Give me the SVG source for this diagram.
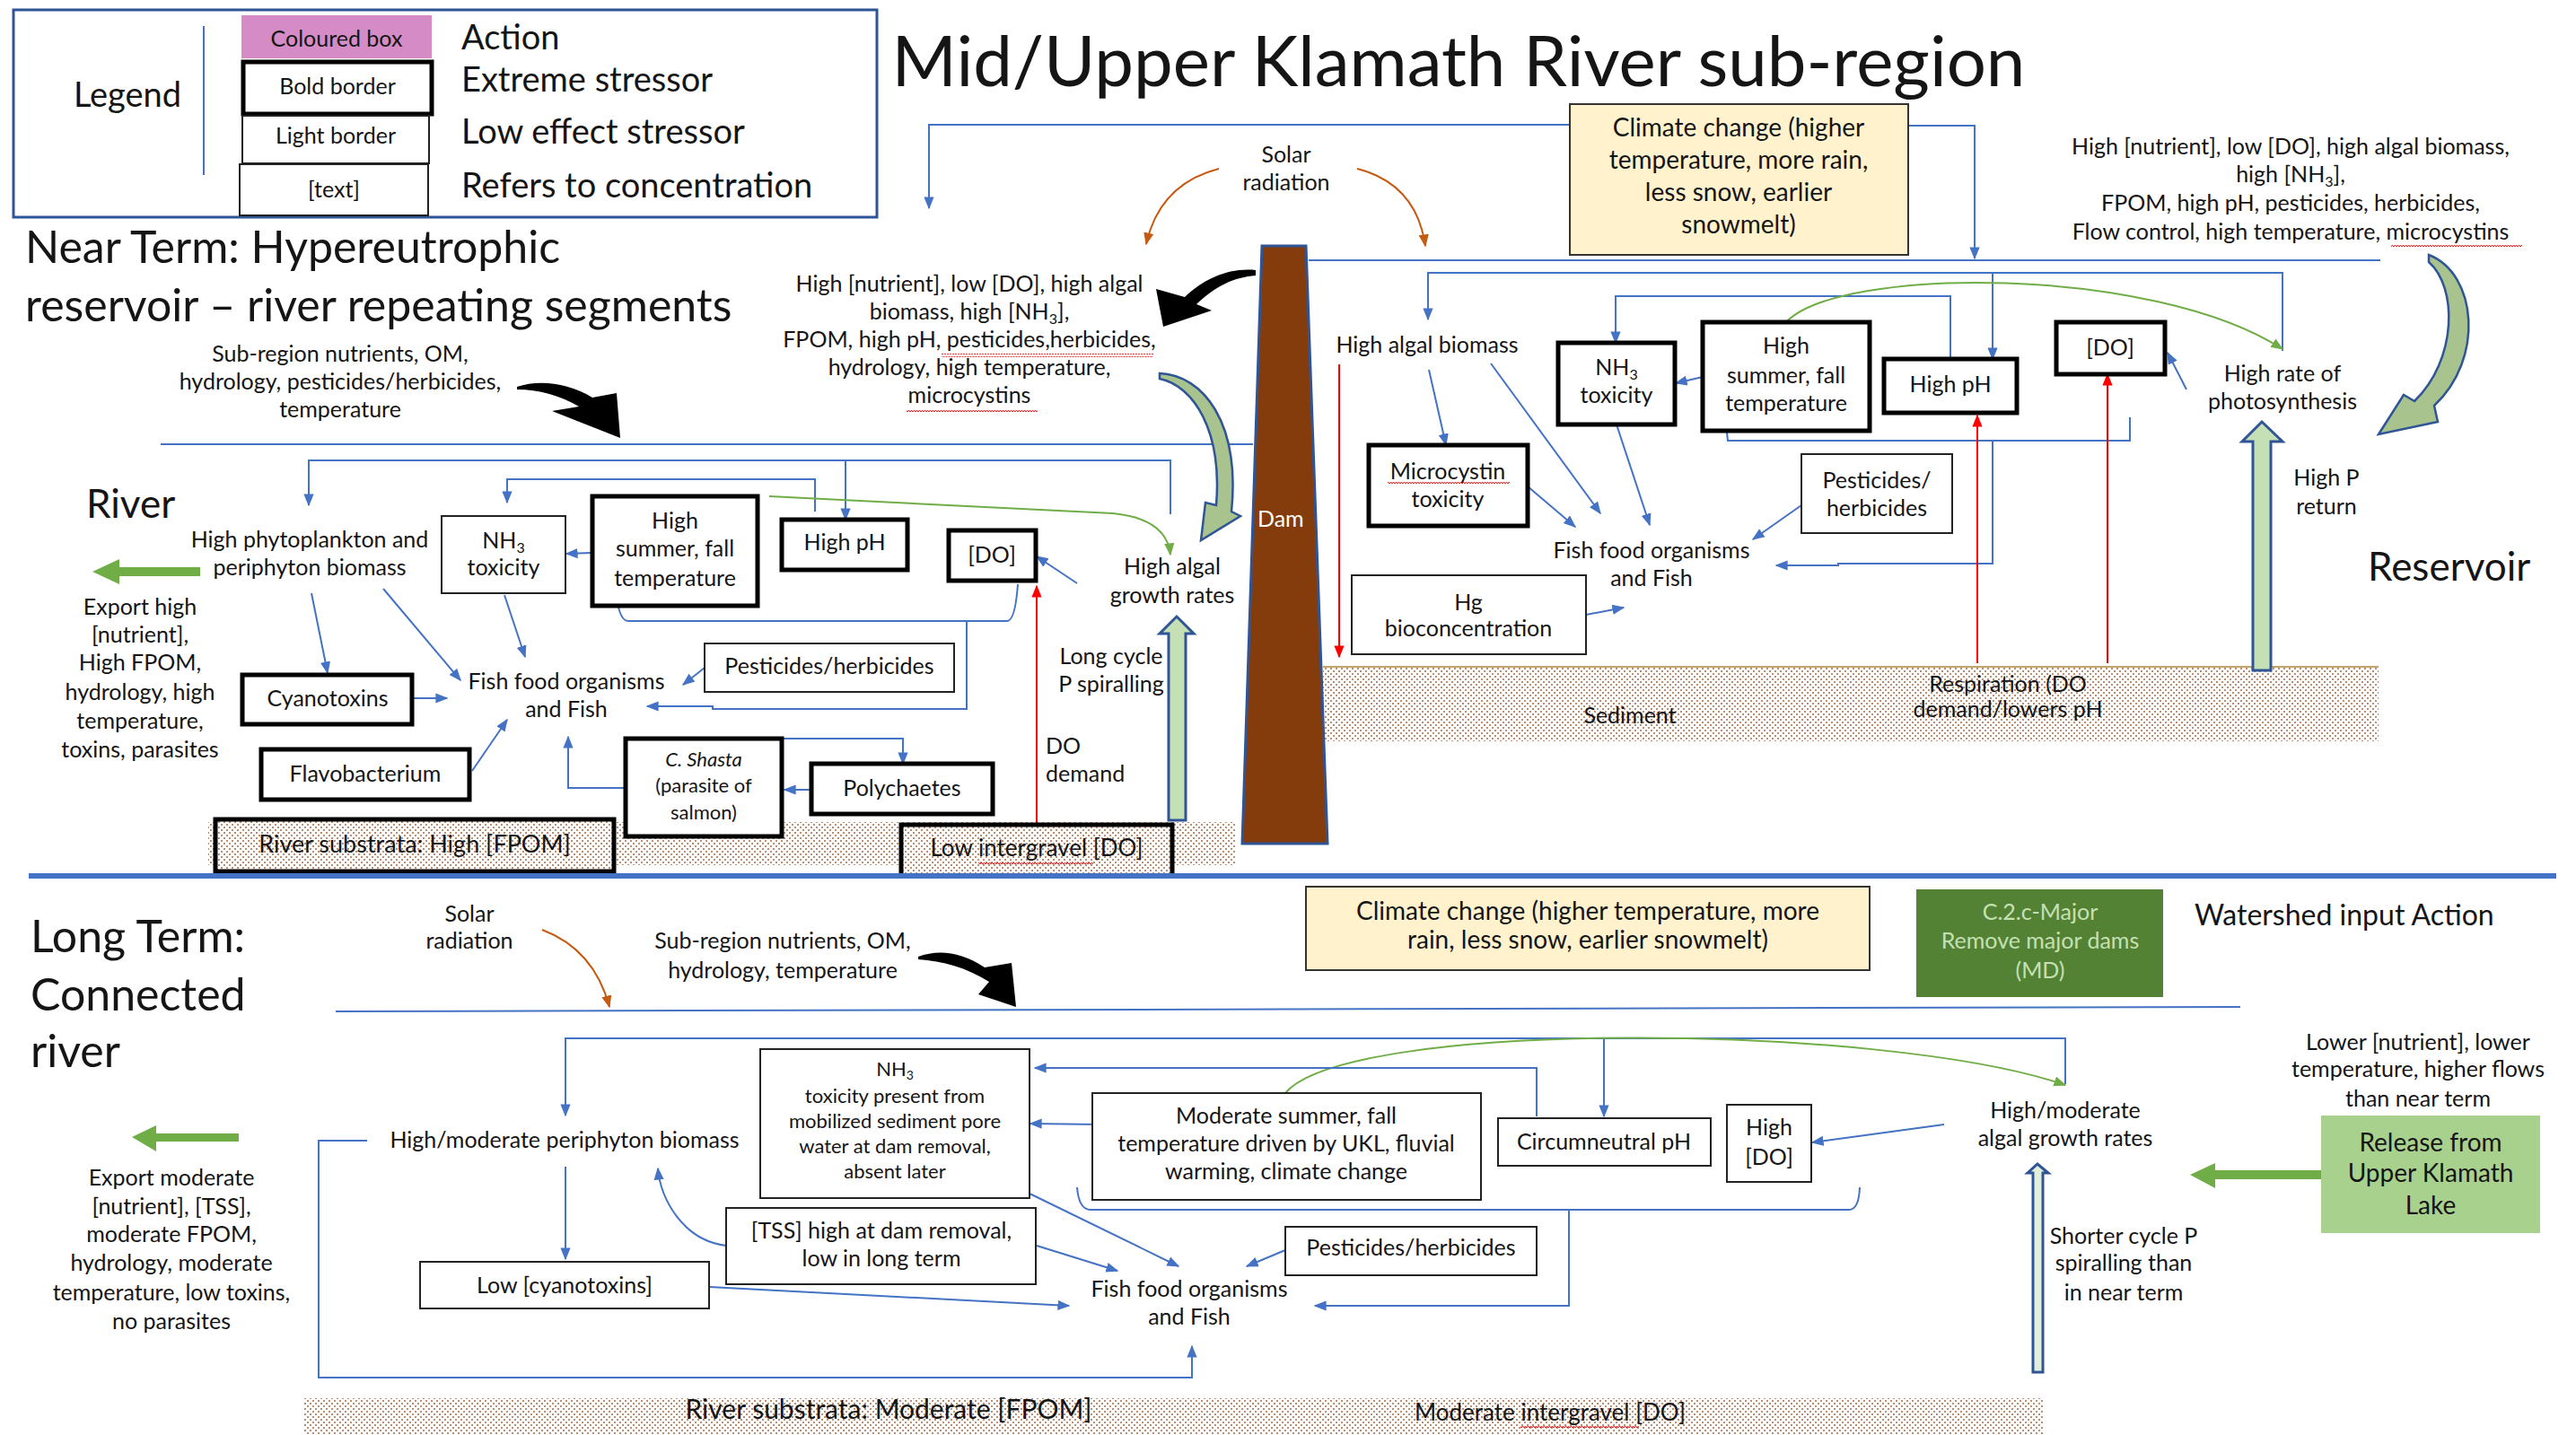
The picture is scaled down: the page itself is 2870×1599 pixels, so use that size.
<svg xmlns="http://www.w3.org/2000/svg" width="2870" height="1599" viewBox="0 0 2870 1599">
<defs>
<style>
text{font-family:Lato,"Liberation Sans",sans-serif;font-size:25px;fill:#151515}
.c{text-anchor:middle}
.sub{font-size:16px}
.big{font-size:38px}
.head{font-size:50px}
.cl{font-size:28px}
.sm{font-size:22px}
.bold{fill:#fff;stroke:#000;stroke-width:5}
.light{fill:#fff;stroke:#222;stroke-width:2}
.ln{fill:none;stroke:#4472C4;stroke-width:2}
.lnr{fill:none;stroke:#FF0000;stroke-width:2}
.lng{fill:none;stroke:#70AD47;stroke-width:2}
.lno{fill:none;stroke:#C55A11;stroke-width:2}
.blk{fill:#000}
.garrow{fill:#A9C38E;stroke:#2F5597;stroke-width:2.5}
.vgarrow{fill:#C5E0B4;stroke:#2F5597;stroke-width:3}
.export{fill:#70AD47}
.wave{fill:url(#wave)}
</style>
<marker id="ab" viewBox="0 0 10 10" refX="9" refY="5" markerWidth="14" markerHeight="14" markerUnits="userSpaceOnUse" orient="auto"><path d="M0,1 L10,5 L0,9 z" fill="#4472C4"/></marker>
<marker id="ar" viewBox="0 0 10 10" refX="9" refY="5" markerWidth="14" markerHeight="14" markerUnits="userSpaceOnUse" orient="auto"><path d="M0,1 L10,5 L0,9 z" fill="#FF0000"/></marker>
<marker id="ag" viewBox="0 0 10 10" refX="9" refY="5" markerWidth="14" markerHeight="14" markerUnits="userSpaceOnUse" orient="auto"><path d="M0,1 L10,5 L0,9 z" fill="#70AD47"/></marker>
<marker id="ao" viewBox="0 0 10 10" refX="9" refY="5" markerWidth="14" markerHeight="14" markerUnits="userSpaceOnUse" orient="auto"><path d="M0,1 L10,5 L0,9 z" fill="#C55A11"/></marker>
<pattern id="dots" width="6" height="6" patternUnits="userSpaceOnUse"><rect width="6" height="6" fill="#fff"/><circle cx="1" cy="1" r="0.95" fill="#9C6038"/><circle cx="4" cy="4" r="0.95" fill="#9C6038"/></pattern>
<pattern id="wave" width="6" height="4" patternUnits="userSpaceOnUse"><path d="M0,3 L1.5,1 L3,3 L4.5,1 L6,3" fill="none" stroke="#E00000" stroke-width="0.9"/></pattern>
</defs>
<rect width="2870" height="1599" fill="#fff"/>

<!-- Legend -->
<g id="legend">
<rect x="15" y="11" width="962" height="231" fill="none" stroke="#2F5597" stroke-width="3"/>
<text x="142" y="119" class="c big">Legend</text>
<line x1="227" y1="29" x2="227" y2="195" stroke="#4472C4" stroke-width="2"/>
<rect x="269" y="17" width="212" height="48" fill="#D48BC6"/>
<text x="375" y="52" class="c">Coloured box</text>
<rect x="271" y="69" width="210" height="58" class="bold"/>
<text x="376" y="105" class="c">Bold border</text>
<rect x="270" y="129" width="208" height="53" class="light"/>
<text x="374" y="160" class="c">Light border</text>
<rect x="267" y="183" width="210" height="57" class="light" stroke-width="2.5"/>
<text x="372" y="220" class="c">[text]</text>
<text x="514" y="55" class="big">Action</text>
<text x="514" y="102" class="big">Extreme stressor</text>
<text x="514" y="160" class="big">Low effect stressor</text>
<text x="514" y="220" class="big">Refers to concentration</text>
</g>

<text id="title" x="1625" y="96" class="c" style="font-size:78px">Mid/Upper Klamath River sub-region</text>

<!-- Near term headings -->
<g id="near-term-heading">
<text x="28" y="293" class="head">Near Term: Hypereutrophic</text>
<text x="28" y="358" class="head">reservoir – river repeating segments</text>
</g>

<!-- Sediment bands -->
<rect id="nt-river-substrate" x="232" y="916" width="1145" height="48" fill="url(#dots)"/>
<g id="nt-sediment">
<rect x="1474" y="743" width="1176" height="83" fill="url(#dots)"/>
<line x1="1474" y1="743" x2="2650" y2="743" stroke="#BFA56A" stroke-width="2"/>
<text x="1816" y="806" class="c">Sediment</text>
<text x="2237" y="771" class="c">Respiration (DO</text>
<text x="2237" y="799" class="c">demand/lowers pH</text>
</g>
<rect id="lt-river-substrate" x="338" y="1558" width="1939" height="41" fill="url(#dots)"/>

<!-- Dam -->
<g id="dam">
<polygon points="1406,274 1455,274 1479,940 1384,940" fill="#843C0C" stroke="#2F5597" stroke-width="3"/>
<text x="1401" y="587" style="fill:#fff">Dam</text>
</g>

<!-- Connectors -->
<g id="connectors">
<!-- near term, upper inputs -->
<path class="ln" d="M1749,139 L1035,139 L1035,232" marker-end="url(#ab)"/>
<path class="ln" d="M2126,140 L2200,140 L2200,288" marker-end="url(#ab)"/>
<path class="ln" d="M179,495 L1396,495"/>
<path class="ln" d="M1458,290 L2652,290"/>
<path class="lno" d="M1358,188 Q1292,205 1277,272" marker-end="url(#ao)"/>
<path class="lno" d="M1512,188 Q1578,205 1588,274" marker-end="url(#ao)"/>
<path class="blk" d="M576,431 C600,423 632,426 660,443 L687,438 L691,488 L615,458 L645,453 C625,441 600,434 576,434 Z"/>
<path class="blk" d="M1399,301 C1370,298 1342,310 1320,331 L1288,322 L1296,364 L1350,346 L1333,339 C1355,318 1375,309 1399,307 Z"/>
<path class="garrow" d="M1292,416 C1340,418 1382,470 1372,570 L1382,575 L1338,602 L1343,560 L1355,563 C1362,480 1330,430 1292,422 Z"/>
<path class="garrow" d="M2706,284 C2760,305 2768,400 2712,452 L2716,470 L2650,484 L2678,440 L2690,447 C2738,400 2738,320 2706,292 Z"/>

<!-- reservoir -->
<path class="ln" d="M2543,391 L2543,304 L1591,304 L1591,356" marker-end="url(#ab)"/>
<path class="ln" d="M2220,304 L2220,400" marker-end="url(#ab)"/>
<path class="ln" d="M2173,400 L2173,330 L1800,330 L1800,382" marker-end="url(#ab)"/>
<path class="lng" d="M1990,359 C2050,296 2400,296 2543,389" marker-end="url(#ag)"/>
<path class="ln" d="M1592,412 L1611,496" marker-end="url(#ab)"/>
<path class="ln" d="M1661,405 L1783,572" marker-end="url(#ab)"/>
<path class="ln" d="M1801,473 L1838,585" marker-end="url(#ab)"/>
<path class="ln" d="M1897,420 L1867,427" marker-end="url(#ab)"/>
<path class="ln" d="M1922,465 L1925,491 L2373,491 L2373,465"/>
<path class="ln" d="M2220,491 L2220,628 L2048,628 L2048,630 L1979,630" marker-end="url(#ab)"/>
<path class="ln" d="M2007,563 L1953,601" marker-end="url(#ab)"/>
<path class="ln" d="M1702,542 L1755,587" marker-end="url(#ab)"/>
<path class="ln" d="M1767,685 L1809,677" marker-end="url(#ab)"/>
<path class="ln" d="M2436,434 L2415,393" marker-end="url(#ab)"/>
<path class="lnr" d="M1492,406 L1492,732" marker-end="url(#ar)"/>
<path class="lnr" d="M2203,739 L2203,463" marker-end="url(#ar)"/>
<path class="lnr" d="M2348,739 L2348,417" marker-end="url(#ar)"/>
<path class="vgarrow" d="M2510,747 L2510,492 L2498,492 L2520,470 L2543,492 L2530,492 L2530,747 Z"/>

<!-- near term river -->
<path class="ln" d="M1304,573 L1304,513 L344,513 L344,563" marker-end="url(#ab)"/>
<path class="ln" d="M942,513 L942,579" marker-end="url(#ab)"/>
<path class="ln" d="M908,570 L908,534 L565,534 L565,560" marker-end="url(#ab)"/>
<path class="lng" d="M857,553 L1240,572 Q1300,578 1304,618" marker-end="url(#ag)"/>
<path class="ln" d="M659,616 L631,617" marker-end="url(#ab)"/>
<path class="ln" d="M562,663 L585,732" marker-end="url(#ab)"/>
<path class="ln" d="M347,661 L365,750" marker-end="url(#ab)"/>
<path class="ln" d="M427,656 L513,758" marker-end="url(#ab)"/>
<path class="ln" d="M461,778 L498,778" marker-end="url(#ab)"/>
<path class="ln" d="M526,859 L565,802" marker-end="url(#ab)"/>
<path class="ln" d="M698,878 L633,878 L633,821" marker-end="url(#ab)"/>
<path class="ln" d="M686,651 Q688,692 700,692 L1122,692 Q1131,692 1134,651"/>
<path class="ln" d="M1077,692 L1077,790 L794,790 L794,787 L721,787" marker-end="url(#ab)"/>
<path class="ln" d="M785,744 L761,763" marker-end="url(#ab)"/>
<path class="ln" d="M871,823 L1006,823 L1006,851" marker-end="url(#ab)"/>
<path class="ln" d="M905,880 L874,880" marker-end="url(#ab)"/>
<path class="ln" d="M1200,650 L1155,620" marker-end="url(#ab)"/>
<path class="lnr" d="M1155,921 L1155,653" marker-end="url(#ar)"/>
<path class="vgarrow" d="M1302,914 L1302,706 L1292,706 L1311,687 L1330,706 L1321,706 L1321,914 Z"/>
<path class="export" d="M223,632 L133,632 L133,623 L103,637 L133,651 L133,642 L223,642 Z"/>

<!-- long term -->
<path class="lno" d="M604,1036 Q662,1058 679,1122" marker-end="url(#ao)"/>
<path class="blk" d="M1023,1066 C1045,1058 1070,1060 1097,1078 L1127,1073 L1132,1122 L1090,1108 L1102,1094 C1077,1078 1050,1071 1023,1069 Z"/>
<path class="ln" d="M374,1127 L2496,1122"/>
<path class="ln" d="M2301,1208 L2301,1157 L630,1157 L630,1243" marker-end="url(#ab)"/>
<path class="ln" d="M1787,1157 L1787,1244" marker-end="url(#ab)"/>
<path class="lng" d="M1432,1218 C1500,1135 2100,1140 2301,1209" marker-end="url(#ag)"/>
<path class="ln" d="M1712,1244 L1712,1190 L1153,1190" marker-end="url(#ab)"/>
<path class="ln" d="M1226,1253 L1148,1252" marker-end="url(#ab)"/>
<path class="ln" d="M2166,1253 L2019,1273" marker-end="url(#ab)"/>
<path class="ln" d="M1200,1323 Q1202,1348 1215,1348 L2060,1348 Q2071,1348 2072,1323"/>
<path class="ln" d="M1748,1348 L1748,1455 L1465,1455" marker-end="url(#ab)"/>
<path class="ln" d="M1432,1393 L1389,1411" marker-end="url(#ab)"/>
<path class="ln" d="M1141,1327 L1313,1411" marker-end="url(#ab)"/>
<path class="ln" d="M1155,1388 L1245,1416" marker-end="url(#ab)"/>
<path class="ln" d="M809,1388 C760,1382 736,1335 733,1302" marker-end="url(#ab)"/>
<path class="ln" d="M409,1271 L355,1271 L355,1535 L1328,1535 L1328,1500" marker-end="url(#ab)"/>
<path class="ln" d="M630,1300 L630,1403" marker-end="url(#ab)"/>
<path class="ln" d="M790,1434 L1191,1455" marker-end="url(#ab)"/>
<path class="vgarrow" d="M2265,1529 L2265,1307 L2259,1307 L2270,1297 L2282,1307 L2276,1307 L2276,1529 Z" style="fill:#E2F0D9"/>
<path class="export" d="M266,1263 L174,1263 L174,1254 L147,1267 L174,1283 L174,1272 L266,1272 Z"/>
<path class="export" d="M2586,1304 L2468,1304 L2468,1296 L2440,1309 L2468,1324 L2468,1314 L2586,1314 Z"/>
</g>

<!-- Near term: upper labels -->
<g id="nt-inputs-left">
<text x="379" y="403" class="c">Sub-region nutrients, OM,</text>
<text x="379" y="434" class="c">hydrology, pesticides/herbicides,</text>
<text x="379" y="465" class="c">temperature</text>
</g>
<g id="nt-reservoir-outflow">
<text x="1080" y="325" class="c">High [nutrient], low [DO], high algal</text>
<text x="1080" y="356" class="c">biomass, high [NH<tspan class="sub" dy="5">3</tspan><tspan dy="-5">],</tspan></text>
<text x="1080" y="387" class="c">FPOM, high pH, pesticides,herbicides,</text>
<text x="1080" y="418" class="c">hydrology, high temperature,</text>
<text x="1080" y="449" class="c">microcystins</text>
<rect x="1049" y="394" width="236" height="4" class="wave"/>
<rect x="1010" y="456" width="146" height="4" class="wave"/>
</g>
<g id="nt-solar">
<text x="1433" y="181" class="c">Solar</text>
<text x="1433" y="212" class="c">radiation</text>
</g>
<g id="nt-climate">
<rect x="1749" y="116" width="377" height="168" fill="#FFF2CC" stroke="#333" stroke-width="2"/>
<text x="1937" y="152" class="c cl">Climate change (higher</text>
<text x="1937" y="188" class="c cl">temperature, more rain,</text>
<text x="1937" y="224" class="c cl">less snow, earlier</text>
<text x="1937" y="260" class="c cl">snowmelt)</text>
</g>
<g id="nt-reservoir-inflow">
<text x="2552" y="172" class="c">High [nutrient], low [DO], high algal biomass,</text>
<text x="2552" y="203" class="c">high [NH<tspan class="sub" dy="5">3</tspan><tspan dy="-5">],</tspan></text>
<text x="2552" y="235" class="c">FPOM, high pH, pesticides, herbicides,</text>
<text x="2552" y="267" class="c">Flow control, high temperature, microcystins</text>
<rect x="2664" y="272" width="146" height="4" class="wave"/>
</g>

<!-- Reservoir nodes -->
<text id="res-algal-biomass" x="1590" y="393" class="c">High algal biomass</text>
<g id="res-nh3">
<rect x="1736" y="382" width="130" height="91" class="bold"/>
<text x="1801" y="418" class="c">NH<tspan class="sub" dy="5">3</tspan></text>
<text x="1801" y="449" class="c">toxicity</text>
</g>
<g id="res-temperature">
<rect x="1897" y="359" width="186" height="121" class="bold"/>
<text x="1990" y="394" class="c">High</text>
<text x="1990" y="427" class="c">summer, fall</text>
<text x="1990" y="458" class="c">temperature</text>
</g>
<g id="res-ph">
<rect x="2099" y="400" width="148" height="60" class="bold"/>
<text x="2173" y="437" class="c">High pH</text>
</g>
<g id="res-do">
<rect x="2291" y="359" width="121" height="58" class="bold"/>
<text x="2351" y="396" class="c">[DO]</text>
</g>
<g id="res-photosynthesis">
<text x="2543" y="425" class="c">High rate of</text>
<text x="2543" y="456" class="c">photosynthesis</text>
</g>
<g id="res-pesticides">
<rect x="2007" y="506" width="168" height="88" class="light"/>
<text x="2091" y="544" class="c">Pesticides/</text>
<text x="2091" y="575" class="c">herbicides</text>
</g>
<g id="res-microcystin">
<rect x="1525" y="496" width="177" height="90" class="bold"/>
<text x="1613" y="534" class="c">Microcystin</text>
<text x="1613" y="565" class="c">toxicity</text>
<rect x="1546" y="537" width="136" height="4" class="wave"/>
</g>
<g id="res-hg">
<rect x="1506" y="641" width="261" height="88" class="light"/>
<text x="1636" y="680" class="c">Hg</text>
<text x="1636" y="709" class="c">bioconcentration</text>
</g>
<g id="res-fish">
<text x="1840" y="622" class="c">Fish food organisms</text>
<text x="1840" y="653" class="c">and Fish</text>
</g>
<g id="res-p-return">
<text x="2592" y="541" class="c">High P</text>
<text x="2592" y="573" class="c">return</text>
</g>
<text id="res-label" x="2638" y="647" style="font-size:44px">Reservoir</text>

<!-- Near term river nodes -->
<text id="river-label" x="96" y="577" style="font-size:44px">River</text>
<g id="riv-phyto">
<text x="345" y="610" class="c">High phytoplankton and</text>
<text x="345" y="641" class="c">periphyton biomass</text>
</g>
<g id="riv-export">
<text x="156" y="685" class="c">Export high</text>
<text x="156" y="716" class="c">[nutrient],</text>
<text x="156" y="747" class="c">High FPOM,</text>
<text x="156" y="780" class="c">hydrology, high</text>
<text x="156" y="812" class="c">temperature,</text>
<text x="156" y="844" class="c">toxins, parasites</text>
</g>
<g id="riv-nh3">
<rect x="492" y="575" width="138" height="86" class="light"/>
<text x="561" y="611" class="c">NH<tspan class="sub" dy="5">3</tspan></text>
<text x="561" y="641" class="c">toxicity</text>
</g>
<g id="riv-temperature">
<rect x="660" y="553" width="184" height="122" class="bold"/>
<text x="752" y="589" class="c">High</text>
<text x="752" y="620" class="c">summer, fall</text>
<text x="752" y="653" class="c">temperature</text>
</g>
<g id="riv-ph">
<rect x="871" y="579" width="140" height="56" class="bold"/>
<text x="941" y="613" class="c">High pH</text>
</g>
<g id="riv-do">
<rect x="1057" y="591" width="97" height="56" class="bold"/>
<text x="1105" y="627" class="c">[DO]</text>
</g>
<g id="riv-algal-growth">
<text x="1306" y="640" class="c">High algal</text>
<text x="1306" y="672" class="c">growth rates</text>
</g>
<g id="riv-cyanotoxins">
<rect x="270" y="752" width="189" height="55" class="bold"/>
<text x="365" y="787" class="c">Cyanotoxins</text>
</g>
<g id="riv-fish">
<text x="631" y="768" class="c">Fish food organisms</text>
<text x="631" y="799" class="c">and Fish</text>
</g>
<g id="riv-pesticides">
<rect x="785" y="717" width="278" height="54" class="light"/>
<text x="924" y="751" class="c">Pesticides/herbicides</text>
</g>
<g id="riv-p-spiral">
<text x="1238" y="740" class="c">Long cycle</text>
<text x="1238" y="771" class="c">P spiralling</text>
</g>
<g id="riv-do-demand">
<text x="1165" y="840">DO</text>
<text x="1165" y="871">demand</text>
</g>
<g id="riv-flavobacterium">
<rect x="291" y="835" width="232" height="56" class="bold"/>
<text x="407" y="871" class="c">Flavobacterium</text>
</g>
<g id="riv-cshasta">
<rect x="697" y="823" width="174" height="109" class="bold"/>
<text x="784" y="854" class="c sm" font-style="italic">C. Shasta</text>
<text x="784" y="883" class="c sm">(parasite of</text>
<text x="784" y="913" class="c sm">salmon)</text>
</g>
<g id="riv-polychaetes">
<rect x="904" y="851" width="202" height="56" class="bold"/>
<text x="1005" y="887" class="c">Polychaetes</text>
</g>
<g id="riv-substrata">
<rect x="240" y="913" width="444" height="58" fill="url(#dots)" stroke="#000" stroke-width="5"/>
<text x="462" y="950" class="c" style="font-size:27px">River substrata: High [FPOM]</text>
</g>
<g id="riv-intergravel">
<rect x="1004" y="919" width="302" height="57" fill="url(#dots)" stroke="#000" stroke-width="5"/>
<text x="1155" y="954" class="c" style="font-size:26px">Low intergravel [DO]</text>
<rect x="1090" y="961" width="128" height="4" class="wave"/>
</g>

<line id="term-divider" x1="32" y1="976" x2="2848" y2="976" stroke="#4472C4" stroke-width="6"/>

<!-- Long term -->
<g id="long-term-heading">
<text x="34" y="1061" class="head">Long Term:</text>
<text x="34" y="1126" class="head">Connected</text>
<text x="34" y="1189" class="head">river</text>
</g>
<g id="lt-solar">
<text x="523" y="1027" class="c">Solar</text>
<text x="523" y="1057" class="c">radiation</text>
</g>
<g id="lt-inputs">
<text x="872" y="1057" class="c">Sub-region nutrients, OM,</text>
<text x="872" y="1090" class="c">hydrology, temperature</text>
</g>
<g id="lt-climate">
<rect x="1455" y="988" width="628" height="93" fill="#FFF2CC" stroke="#333" stroke-width="2"/>
<text x="1769" y="1025" class="c cl">Climate change (higher temperature, more</text>
<text x="1769" y="1057" class="c cl">rain, less snow, earlier snowmelt)</text>
</g>
<g id="lt-action-dams">
<rect x="2135" y="991" width="275" height="120" fill="#548235"/>
<text x="2273" y="1025" class="c" style="fill:#C5E0B4">C.2.c-Major</text>
<text x="2273" y="1057" class="c" style="fill:#C5E0B4">Remove major dams</text>
<text x="2273" y="1090" class="c" style="fill:#C5E0B4">(MD)</text>
</g>
<text id="lt-watershed-label" x="2445" y="1031" style="font-size:32px">Watershed input  Action</text>
<text id="lt-periphyton" x="629" y="1279" class="c">High/moderate periphyton biomass</text>
<g id="lt-nh3">
<rect x="847" y="1169" width="300" height="166" class="light"/>
<text x="997" y="1199" class="c sm">NH<tspan class="sub" style="font-size:14px" dy="4">3</tspan></text>
<text x="997" y="1229" class="c sm">toxicity present from</text>
<text x="997" y="1257" class="c sm">mobilized sediment pore</text>
<text x="997" y="1285" class="c sm">water at dam removal,</text>
<text x="997" y="1313" class="c sm">absent later</text>
</g>
<g id="lt-temperature">
<rect x="1217" y="1218" width="433" height="119" class="light"/>
<text x="1433" y="1252" class="c">Moderate summer, fall</text>
<text x="1433" y="1283" class="c">temperature driven by UKL, fluvial</text>
<text x="1433" y="1314" class="c">warming, climate change</text>
</g>
<g id="lt-ph">
<rect x="1669" y="1246" width="237" height="53" class="light"/>
<text x="1787" y="1281" class="c">Circumneutral pH</text>
</g>
<g id="lt-do">
<rect x="1924" y="1231" width="94" height="86" class="light"/>
<text x="1971" y="1265" class="c">High</text>
<text x="1971" y="1298" class="c">[DO]</text>
</g>
<g id="lt-algal-growth">
<text x="2301" y="1246" class="c">High/moderate</text>
<text x="2301" y="1277" class="c">algal growth rates</text>
</g>
<g id="lt-ukl-note">
<text x="2694" y="1170" class="c">Lower [nutrient], lower</text>
<text x="2694" y="1200" class="c">temperature, higher flows</text>
<text x="2694" y="1233" class="c">than near term</text>
</g>
<g id="lt-ukl-release">
<rect x="2586" y="1243" width="244" height="131" fill="#A9D18E"/>
<text x="2708" y="1283" class="c cl">Release from</text>
<text x="2708" y="1317" class="c cl">Upper Klamath</text>
<text x="2708" y="1353" class="c cl">Lake</text>
</g>
<g id="lt-p-spiral">
<text x="2366" y="1386" class="c">Shorter cycle P</text>
<text x="2366" y="1416" class="c">spiralling than</text>
<text x="2366" y="1449" class="c">in near term</text>
</g>
<g id="lt-pesticides">
<rect x="1432" y="1367" width="280" height="54" class="light"/>
<text x="1572" y="1399" class="c">Pesticides/herbicides</text>
</g>
<g id="lt-fish">
<text x="1325" y="1445" class="c">Fish food organisms</text>
<text x="1325" y="1476" class="c">and Fish</text>
</g>
<g id="lt-tss">
<rect x="809" y="1346" width="345" height="85" class="light"/>
<text x="982" y="1380" class="c">[TSS] high at dam removal,</text>
<text x="982" y="1411" class="c">low in long term</text>
</g>
<g id="lt-cyanotoxins">
<rect x="468" y="1406" width="322" height="52" class="light"/>
<text x="629" y="1441" class="c">Low [cyanotoxins]</text>
</g>
<g id="lt-export">
<text x="191" y="1321" class="c">Export moderate</text>
<text x="191" y="1353" class="c">[nutrient], [TSS],</text>
<text x="191" y="1384" class="c">moderate FPOM,</text>
<text x="191" y="1416" class="c">hydrology, moderate</text>
<text x="191" y="1449" class="c">temperature, low toxins,</text>
<text x="191" y="1481" class="c">no parasites</text>
</g>
<g id="lt-substrata">
<text x="990" y="1581" class="c" style="font-size:30px">River substrata: Moderate [FPOM]</text>
<text x="1727" y="1583" class="c" style="font-size:26px">Moderate intergravel [DO]</text>
<rect x="1694" y="1588" width="132" height="4" class="wave"/>
</g>
</svg>
